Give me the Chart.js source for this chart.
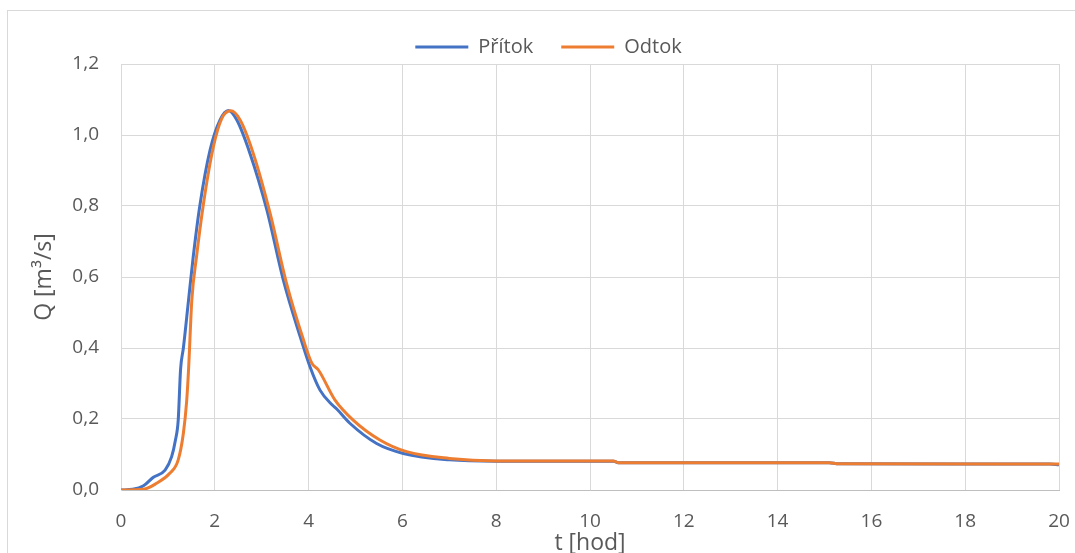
<!DOCTYPE html>
<html>
<head>
<meta charset="utf-8">
<script src="https://cdn.jsdelivr.net/npm/chart.js@4"></script>
<style>
  html, body { margin: 0; padding: 0; background: #fff; overflow: hidden; }
  #frame {
    position: absolute; left: 7px; top: 10px;
    width: 1080px; height: 560px;
    border: 1px solid #d9d9d9;
  }
  #wrap { position: absolute; left: 0; top: 0; width: 1075px; height: 553px; }
</style>
</head>
<body>
<div id="frame"></div>
<div id="wrap"><canvas id="hydroChart"></canvas></div>
<script>
// inflow hydrograph (Přítok)
const tPritok = [0, 0.25, 0.48, 0.69, 0.94, 1.08, 1.16, 1.22, 1.27, 1.33, 1.44, 1.54, 1.68, 1.9, 2.11, 2.29, 2.47, 2.75, 3.11, 3.46, 3.82, 4.03, 4.24, 4.5, 4.6, 4.88, 5.45, 6.02, 7.0, 8.0, 10.5, 10.6, 15.1, 15.3, 19.8, 20];
const qPritok = [0, 0.002, 0.012, 0.036, 0.056, 0.094, 0.14, 0.197, 0.34, 0.40, 0.535, 0.657, 0.80, 0.958, 1.042, 1.069, 1.042, 0.948, 0.789, 0.592, 0.432, 0.347, 0.282, 0.24, 0.228, 0.188, 0.131, 0.103, 0.085, 0.081, 0.081, 0.077, 0.077, 0.074, 0.073, 0.071];

// outflow hydrograph (Odtok)
const tOdtok = [0, 0.48, 0.76, 1.04, 1.22, 1.33, 1.40, 1.44, 1.51, 1.61, 1.76, 1.97, 2.15, 2.34, 2.54, 2.82, 3.18, 3.53, 3.89, 4.07, 4.21, 4.56, 4.95, 5.52, 6.09, 7.0, 8.0, 10.5, 10.6, 15.1, 15.3, 20];
const qOdtok = [0, 0.002, 0.019, 0.047, 0.085, 0.16, 0.25, 0.338, 0.535, 0.657, 0.808, 0.967, 1.047, 1.068, 1.042, 0.948, 0.779, 0.582, 0.423, 0.357, 0.338, 0.254, 0.197, 0.141, 0.108, 0.089, 0.082, 0.082, 0.077, 0.077, 0.074, 0.073];

const xTicks = [0, 2, 4, 6, 8, 10, 12, 14, 16, 18, 20];
const yTicks = [0, 0.2, 0.4, 0.6, 0.8, 1.0, 1.2];
const yTickLabels = ['0,0', '0,2', '0,4', '0,6', '0,8', '1,0', '1,2'];

const FONT = "'Open Sans', sans-serif";
const TEXT = '#595959';
const GRID = '#d9d9d9';

const toPoints = (ts, qs) => ts.map((t, i) => ({ x: t, y: qs[i] }));

new Chart(document.getElementById('hydroChart'), {
    type: 'line',
    data: {
        datasets: [{
            label: 'Přítok',
            data: toPoints(tPritok, qPritok),
            borderColor: '#4472C4',
            backgroundColor: '#4472C4',
            borderWidth: 3,
            pointRadius: 0,
            cubicInterpolationMode: 'monotone',
            order: 2
        }, {
            label: 'Odtok',
            data: toPoints(tOdtok, qOdtok),
            borderColor: '#ED7D31',
            backgroundColor: '#ED7D31',
            borderWidth: 3,
            pointRadius: 0,
            cubicInterpolationMode: 'monotone',
            order: 1
        }]
    },
    options: {
        responsive: true,
        maintainAspectRatio: false,
        animation: false,
        layout: { padding: { left: 24, right: 2, top: 9, bottom: 0 } },
        plugins: {
            legend: {
                position: 'top',
                maxHeight: 55,
                labels: {
                    font: { family: FONT, size: 20 },
                    color: TEXT,
                    usePointStyle: true,
                    pointStyle: 'line',
                    pointStyleWidth: 53,
                    padding: 28,
                    sort: (a, b) => a.datasetIndex - b.datasetIndex
                }
            },
            tooltip: { enabled: false }
        },
        scales: {
            x: {
                type: 'linear',
                min: 0,
                max: 20,
                afterBuildTicks: (s) => { s.ticks = xTicks.map(v => ({ value: v })); },
                afterFit: (s) => { s.height = 63; s.paddingLeft = 0; s.paddingRight = 16; },
                grid: { color: GRID, drawTicks: false },
                border: { color: '#bfbfbf', width: 1 },
                ticks: { font: { family: FONT, size: 19 }, color: TEXT, padding: 20, maxRotation: 0 },
                title: {
                    display: true, text: 't [hod]',
                    font: { family: FONT, size: 23 }, color: TEXT,
                    padding: { top: 0, bottom: -4 }
                }
            },
            y: {
                min: 0,
                max: 1.2,
                afterBuildTicks: (s) => { s.ticks = yTicks.map(v => ({ value: v })); },
                afterFit: (s) => { s.width = 97; },
                grid: { color: GRID, drawTicks: false },
                border: { color: GRID, width: 1 },
                ticks: {
                    font: { family: FONT, size: 19 }, color: TEXT, padding: 22,
                    callback: (v, i) => yTickLabels[i]
                },
                title: {
                    display: true, text: 'Q [m³/s]',
                    font: { family: FONT, size: 23 }, color: TEXT,
                    padding: { top: 7, bottom: 0 }
                }
            }
        }
    }
});
</script>
</body>
</html>
